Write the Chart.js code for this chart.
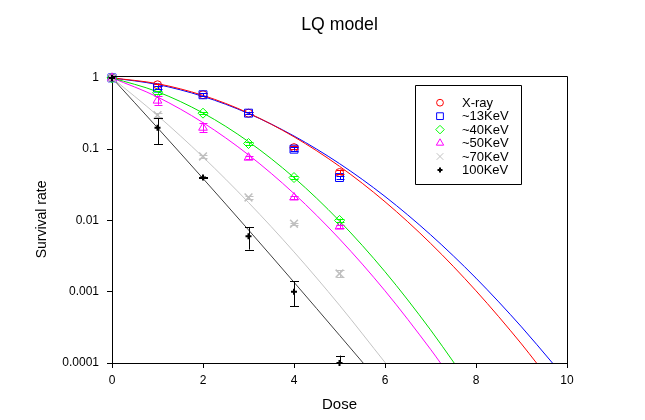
<!DOCTYPE html>
<html><head><meta charset="utf-8">
<script src="https://cdn.jsdelivr.net/npm/chart.js@4.4.0/dist/chart.umd.min.js"></script>
<style>html,body{margin:0;padding:0;background:#fff}#wrap{width:645px;height:420px;position:relative}</style>
</head><body><div id="wrap"><canvas id="c" width="645" height="420"></canvas></div>
<script>
// ---- data ----
const doses = [0, 1, 2, 3, 4, 5];
const seriesNames = ['X-ray', '~13KeV', '~40KeV', '~50KeV', '~70KeV', '100KeV'];
const xray   = [1, 0.80, 0.58, 0.32, 0.105, 0.047];
const kev13  = [1, 0.72, 0.58, 0.32, 0.100, 0.040];
const kev40  = [1, 0.62, 0.32, 0.12, 0.040, 0.010];
const kev50  = [1, 0.48, 0.20, 0.076, 0.021, 0.0082];
const kev70  = [1, 0.30, 0.079, 0.021, 0.0090, 0.0018];
const kev100 = [1, 0.20, 0.040, 0.0060, 0.0010, 0.0001];
// error bar ranges [low, high] per dose
const xrayErr   = [null, [0.77, 0.83], [0.56, 0.61], [0.31, 0.335], [0.10, 0.112], [0.045, 0.051]];
const kev13Err  = [null, [0.69, 0.76], [0.56, 0.61], [0.31, 0.33], [0.095, 0.106], [0.038, 0.042]];
const kev40Err  = [null, [0.60, 0.65], [0.31, 0.33], [0.115, 0.125], [0.038, 0.042], [0.0095, 0.0106]];
const kev50Err  = [null, [0.42, 0.56], [0.175, 0.23], [0.072, 0.080], [0.020, 0.022], [0.0078, 0.0087]];
const kev70Err  = [null, [0.28, 0.32], [0.076, 0.082], [0.020, 0.022], [0.0086, 0.0093], [0.0016, 0.0020]];
const kev100Err = [null, [0.118, 0.27], [0.039, 0.041], [0.0039, 0.0081], [0.00063, 0.0014], [0.00008, 0.000127]];
// fitted LQ curves
const xrayFitX  = [0, 1, 2, 3, 4, 5, 6, 7, 8, 9, 9.33];
const xrayFitY  = [1, 0.829, 0.568, 0.321, 0.149, 0.0575, 0.0183, 0.00478, 0.00103, 0.000185, 0.0001];
const kev13FitX = [0, 1, 2, 3, 4, 5, 6, 7, 8, 9, 9.68];
const kev13FitY = [1, 0.807, 0.550, 0.316, 0.153, 0.0627, 0.0217, 0.00631, 0.00155, 0.000321, 0.0001];
const kev40FitX = [0, 1, 2, 3, 4, 5, 6, 7, 7.52];
const kev40FitY = [1, 0.639, 0.3215, 0.1275, 0.0399, 0.00983, 0.00191, 0.000292, 0.0001];
const kev50FitX = [0, 1, 2, 3, 4, 5, 6, 7, 7.22];
const kev50FitY = [1, 0.5395, 0.2355, 0.0832, 0.0238, 0.0055, 0.00103, 0.000156, 0.0001];
const kev70FitX = [0, 1, 2, 3, 4, 5, 6.01];
const kev70FitY = [1, 0.2968, 0.0776, 0.01785, 0.00362, 0.000646, 0.0001];
const kev100FitX = [0, 1, 2, 3, 4, 5, 5.52];
const kev100FitY = [1, 0.1995, 0.0388, 0.00736, 0.00136, 0.000245, 0.0001];
const xTicks = [0, 2, 4, 6, 8, 10];
const yTicks = [1, 0.1, 0.01, 0.001, 0.0001];

// ---- styles ----
const colors = ['#ff0000', '#0000ff', '#00ff00', '#ff00ff', '#c0c0c0', '#000000'];
const lineColors = ['#ff0000', '#0000ff', '#00e000', '#ff00ff', '#c4c4c4', '#404040'];
const styles = [
  {pointStyle: 'circle', radius: 4},
  {pointStyle: 'rect', radius: 5.6},
  {pointStyle: 'rectRot', radius: 5},
  {pointStyle: 'triangle', radius: 5},
  {pointStyle: 'crossRot', radius: 5.5},
  {pointStyle: 'cross', radius: 3}
];
const values = [xray, kev13, kev40, kev50, kev70, kev100];
const errs = [xrayErr, kev13Err, kev40Err, kev50Err, kev70Err, kev100Err];
const fitsX = [xrayFitX, kev13FitX, kev40FitX, kev50FitX, kev70FitX, kev100FitX];
const fitsY = [xrayFitY, kev13FitY, kev40FitY, kev50FitY, kev70FitY, kev100FitY];

const datasets = [];
fitsX.forEach((xs, i) => {
  datasets.push({
    label: seriesNames[i] + ' fit', isFit: true,
    data: xs.map((x, k) => ({x: x, y: fitsY[i][k]})),
    showLine: true, borderColor: lineColors[i], borderWidth: 1, pointRadius: 0,
    cubicInterpolationMode: 'monotone', fill: false, order: 20 + i
  });
});
values.forEach((vals, i) => {
  datasets.push({
    label: seriesNames[i], isFit: false, errIndex: i,
    data: doses.map((d, k) => ({x: d, y: vals[k]})),
    showLine: false, borderColor: colors[i], backgroundColor: 'rgba(0,0,0,0)',
    pointStyle: styles[i].pointStyle, pointRadius: styles[i].radius,
    pointBorderWidth: i === 5 ? 2 : (i === 4 ? 1.5 : 1), pointBorderColor: colors[i],
    pointBackgroundColor: 'rgba(0,0,0,0)', clip: false, order: 10 - i
  });
});

const F = "'Liberation Sans', Arial, sans-serif";

const errorBars = {
  id: 'errorBars',
  afterDatasetsDraw(chart) {
    const ctx = chart.ctx, xs = chart.scales.x, ys = chart.scales.y, a = chart.chartArea;
    ctx.save();
    ctx.beginPath(); ctx.rect(a.left - 10, a.top - 10, a.width + 20, a.height + 10); ctx.clip();
    ctx.lineWidth = 1;
    chart.data.datasets.forEach(ds => {
      if (ds.isFit) return;
      const e = errs[ds.errIndex];
      ctx.strokeStyle = colors[ds.errIndex];
      const cap = ds.errIndex === 5 ? 4.5 : 4;
      e.forEach((r, k) => {
        if (!r) return;
        const px = Math.round(xs.getPixelForValue(doses[k])) + 0.5;
        const lo = ys.getPixelForValue(r[0]), hi = ys.getPixelForValue(r[1]);
        ctx.beginPath();
        ctx.moveTo(px, lo); ctx.lineTo(px, hi);
        ctx.moveTo(px - cap, Math.round(hi) + 0.5); ctx.lineTo(px + cap, Math.round(hi) + 0.5);
        ctx.moveTo(px - cap, Math.round(lo) + 0.5); ctx.lineTo(px + cap, Math.round(lo) + 0.5);
        ctx.stroke();
      });
    });
    ctx.restore();
  }
};

const frameAndLegend = {
  id: 'frameAndLegend',
  afterDraw(chart) {
    const ctx = chart.ctx, a = chart.chartArea;
    ctx.save();
    ctx.strokeStyle = '#000'; ctx.lineWidth = 1;
    ctx.beginPath();
    ctx.moveTo(Math.round(a.left) + 0.5, Math.round(a.top) + 0.5);
    ctx.lineTo(Math.round(a.right) + 0.5, Math.round(a.top) + 0.5);
    ctx.lineTo(Math.round(a.right) + 0.5, Math.round(a.bottom) + 0.5);
    ctx.stroke();
    // legend box
    const bx = 415.5, by = 85.5, bw = 106, bh = 99;
    ctx.beginPath(); ctx.rect(bx, by, bw, bh); ctx.stroke();
    ctx.font = '13px ' + F; ctx.textBaseline = 'middle'; ctx.textAlign = 'left';
    seriesNames.forEach((n, i) => {
      const y = 102.7 + i * 13.45;
      ctx.strokeStyle = colors[i]; ctx.fillStyle = 'rgba(0,0,0,0)';
      ctx.lineWidth = i === 5 ? 2 : 1;
      Chart.helpers.drawPoint(ctx, {pointStyle: styles[i].pointStyle, radius: i === 5 ? 2.5 : styles[i].radius * 0.85, rotation: 0, borderWidth: ctx.lineWidth}, 440, y);
      ctx.fillStyle = '#000';
      ctx.fillText(n, 462, y + 0.5);
    });
    ctx.restore();
  }
};

new Chart(document.getElementById('c'), {
  type: 'scatter',
  data: {datasets: datasets},
  plugins: [errorBars, frameAndLegend],
  options: {
    responsive: false, animation: false,
    layout: {padding: {left: 0, top: 0, right: 78, bottom: 0}},
    plugins: {
      legend: {display: false}, tooltip: {enabled: false},
      title: {display: true, text: 'LQ model', fullSize: false, color: '#000',
        font: {family: F, size: 17.7, weight: 'normal'}, padding: {top: 14.7, bottom: 40}}
    },
    scales: {
      x: {
        type: 'linear', min: 0, max: 10,
        afterBuildTicks: s => { s.ticks = xTicks.map(v => ({value: v})); },
        afterFit: s => { s.height = 57; },
        grid: {drawOnChartArea: false, drawTicks: true, tickLength: 5, color: '#000'},
        border: {color: '#000', width: 1},
        ticks: {color: '#000', font: {family: F, size: 12}, padding: 5, maxRotation: 0},
        title: {display: true, text: 'Dose', color: '#000', font: {family: F, size: 15}, padding: {top: 0, bottom: 6}}
      },
      y: {
        type: 'logarithmic', min: 0.0001, max: 1.065,
        afterBuildTicks: s => { s.ticks = yTicks.map(v => ({value: v})); },
        afterFit: s => { s.width = 112; },
        grid: {drawOnChartArea: false, drawTicks: true, tickLength: 5, color: '#000'},
        border: {color: '#000', width: 1},
        ticks: {color: '#000', font: {family: F, size: 12}, padding: 8, callback: v => String(v)},
        title: {display: true, text: 'Survival rate', color: '#000', font: {family: F, size: 14}, padding: {top: 33.3, bottom: 0}}
      }
    }
  }
});
</script></body></html>
